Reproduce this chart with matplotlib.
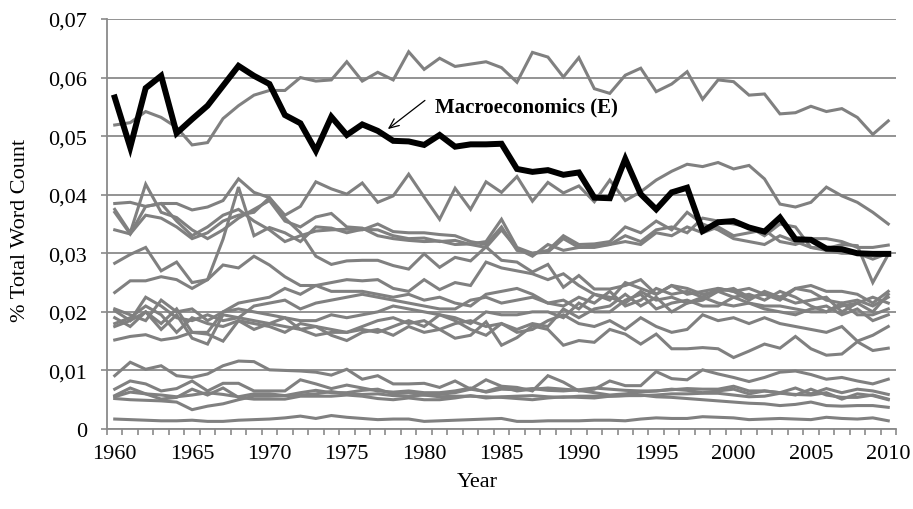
import numpy as np
import matplotlib
matplotlib.use('Agg')
import matplotlib.pyplot as plt
from matplotlib.ticker import FixedLocator

plt.rcParams['font.family'] = ['Liberation Serif', 'DejaVu Serif']

years = list(range(1960, 2011))

# share of total word count, in thousandths (0.001)
macroeconomics = [56.6, 48.1, 58.2, 60.3, 50.5, 52.9, 55.2, 58.6, 62.0, 60.3,
                  58.9, 53.6, 52.2, 47.5, 53.3, 50.2, 52.0, 50.9, 49.2, 49.1,
                  48.5, 50.2, 48.2, 48.6, 48.6, 48.7, 44.4, 43.9, 44.2, 43.4,
                  43.8, 39.5, 39.4, 46.1, 40.1, 37.5, 40.4, 41.2, 33.8, 35.3,
                  35.5, 34.4, 33.7, 36.1, 32.4, 32.3, 30.8, 30.7, 30.0, 29.9,
                  29.9]

topic_top = [51.9, 52.3, 54.2, 53.2, 51.5, 48.5, 48.9, 53.0, 55.2, 57.0,
             57.8, 57.8, 60.0, 59.4, 59.6, 62.7, 59.4, 60.9, 59.6, 64.4,
             61.4, 63.3, 61.9, 62.3, 62.7, 61.7, 59.2, 64.3, 63.5, 60.1,
             63.4, 58.1, 57.3, 60.4, 61.6, 57.6, 58.9, 61.0, 56.3, 59.6,
             59.3, 57.0, 57.2, 53.8, 54.0, 55.1, 54.2, 54.7, 53.2, 50.3,
             52.6]

topic_g1 = [38.5, 38.7, 38.0, 38.5, 38.5, 37.4, 37.9, 39.0, 42.7, 40.4,
            39.5, 36.5, 38.0, 42.2, 41.0, 40.1, 42.0, 38.7, 39.8, 43.5,
            39.6, 35.8, 41.1, 37.5, 42.2, 40.4, 43.1, 38.9, 42.1, 40.3,
            41.5, 38.8, 42.5, 39.0, 40.5, 42.5, 44.0, 45.2, 44.8, 45.5,
            44.4, 45.0, 42.7, 38.4, 37.9, 38.7, 41.3, 39.8, 38.7, 37.0,
            35.0]

topic_g2 = [37.5, 33.5, 41.8, 37.0, 36.1, 34.0, 32.5, 34.0, 36.0, 37.5,
            39.0, 35.5, 34.5, 36.2, 36.8, 34.5, 34.3, 33.0, 32.5, 32.2,
            32.0, 32.1, 31.5, 31.6, 32.0, 35.8, 31.0, 30.0, 30.5, 33.0,
            31.5, 31.6, 32.0, 34.5, 33.5, 35.5, 34.0, 37.0, 35.0, 34.0,
            32.5, 32.0, 31.5, 33.0, 32.0, 31.0, 30.5, 30.0, 30.0, 29.0,
            30.0]

topic_g3 = [37.0, 33.3, 38.0, 38.5, 35.5, 33.0, 34.5, 36.5, 37.5, 35.5,
            34.0, 32.0, 33.0, 33.8, 34.0, 34.1, 34.0, 35.0, 33.7, 33.5,
            33.5, 33.2, 33.0, 32.0, 31.5, 34.5, 30.5, 30.0, 30.2, 32.5,
            31.0, 31.3, 31.5, 33.0, 32.0, 34.0, 34.5, 33.5, 36.0, 35.5,
            35.0, 34.5, 33.0, 35.0, 34.5, 31.0, 30.8, 31.5, 31.3, 25.0,
            29.8]

topic_g4 = [34.0, 33.3, 36.5, 36.0, 34.5, 32.5, 33.5, 35.5, 36.5, 37.0,
            39.5, 36.0, 33.5, 29.5, 28.1, 28.7, 28.8, 28.8, 27.9, 27.3,
            29.9, 27.6, 29.3, 28.7, 31.1, 28.8, 28.5, 26.8, 28.1, 24.2,
            26.2, 23.9, 23.9, 24.5, 25.5, 23.0, 24.5, 24.0, 23.0, 23.5,
            24.0, 22.5, 23.0, 22.0, 24.0, 23.5, 22.0, 21.5, 22.0, 21.0,
            22.5]

topic_g5 = [28.3, 29.8, 31.0, 27.0, 28.5, 25.0, 25.5, 32.4, 41.3, 33.0,
            34.4, 33.5, 32.0, 34.5, 34.3, 33.5, 34.1, 34.0, 33.0, 32.5,
            32.6, 32.0, 32.2, 31.5, 31.0, 34.0, 30.8, 29.5, 31.5, 30.5,
            31.0, 31.0, 31.5, 32.0, 31.5, 33.5, 33.0, 34.5, 33.5, 34.5,
            33.0, 33.5, 34.0, 32.0, 31.5, 32.5, 32.5, 32.0, 31.0, 31.0,
            31.4]

topic_m1 = [23.3, 25.3, 25.3, 26.0, 25.5, 24.0, 25.5, 28.0, 27.5, 29.5,
            28.0, 26.0, 24.5, 24.5, 25.0, 25.5, 25.3, 25.5, 24.0, 23.5,
            25.5, 23.8, 25.0, 24.5, 28.5, 27.5, 27.0, 26.5, 25.5, 26.5,
            24.5, 23.0, 22.0, 25.0, 24.0, 23.0, 24.5, 23.0, 23.5, 24.0,
            23.5, 24.0, 23.0, 22.5, 24.0, 24.5, 23.5, 23.5, 23.0, 21.5,
            23.5]

topic_m2 = [20.2, 18.5, 22.5, 21.0, 19.0, 18.5, 19.5, 18.5, 19.0, 21.0,
            21.5, 22.0, 20.5, 21.5, 22.0, 22.5, 23.0, 22.5, 22.0, 21.5,
            21.0, 20.5, 20.5, 22.0, 22.5, 21.5, 22.0, 22.5, 21.5, 22.0,
            20.5, 23.0, 22.5, 21.5, 23.5, 22.0, 22.5, 21.5, 22.0, 23.5,
            22.5, 23.0, 22.0, 23.5, 22.5, 21.0, 20.0, 21.0, 21.5, 20.0,
            23.0]

topic_m3 = [19.0, 17.5, 20.0, 18.0, 20.5, 16.5, 16.5, 20.0, 21.5, 22.0,
            22.5, 24.0, 23.0, 24.5, 23.5, 23.5, 23.5, 23.0, 22.5, 23.0,
            22.0, 22.5, 21.5, 21.0, 23.0, 23.5, 24.0, 23.0, 21.5, 21.0,
            22.5, 21.5, 23.5, 21.0, 22.0, 24.0, 23.0, 23.5, 22.5, 24.0,
            23.5, 22.0, 23.5, 22.5, 21.5, 22.0, 22.5, 20.0, 21.5, 22.5,
            21.5]

topic_m4 = [18.0, 19.0, 21.0, 19.5, 16.5, 19.0, 18.0, 17.5, 18.5, 17.0,
            18.0, 17.5, 17.0, 17.5, 17.0, 16.5, 17.5, 18.5, 19.0, 18.0,
            18.5, 17.0, 18.0, 18.5, 17.5, 18.0, 17.0, 18.0, 17.5, 20.5,
            19.0, 20.5, 21.0, 23.0, 21.0, 22.5, 20.0, 21.5, 22.5, 21.5,
            21.0, 21.5, 20.5, 20.0, 19.5, 20.5, 21.0, 19.5, 20.5, 18.5,
            19.5]

topic_m5 = [17.5, 18.5, 20.0, 17.0, 19.5, 15.5, 14.5, 19.5, 19.0, 18.5,
            18.0, 19.0, 17.0, 16.0, 16.5, 16.5, 17.0, 16.5, 17.5, 18.5,
            17.5, 19.5, 18.5, 17.0, 16.0, 18.0, 16.5, 17.0, 18.5, 19.5,
            18.0, 17.5, 18.5, 17.0, 19.0, 17.5, 16.5, 17.0, 19.5, 18.5,
            19.0, 18.0, 19.0, 18.0, 17.5, 17.0, 16.5, 17.5, 15.0, 16.0,
            17.5]

topic_m6 = [15.2, 15.8, 16.1, 15.2, 15.6, 16.5, 16.2, 15.0, 18.5, 18.0,
            17.5, 16.5, 18.0, 17.5, 16.0, 15.1, 16.5, 17.0, 16.0, 17.5,
            16.5, 17.0, 15.5, 16.0, 18.3, 14.3, 15.6, 17.6, 17.0, 14.3,
            15.1, 14.8, 17.0, 16.2, 14.5, 16.2, 13.7, 13.7, 13.9, 13.7,
            12.2, 13.3, 14.5, 13.8, 15.8, 13.7, 12.6, 12.8, 14.9, 13.4,
            13.8]

topic_m7 = [20.5, 19.5, 18.5, 22.0, 20.0, 20.5, 18.5, 20.0, 20.5, 20.0,
            19.5, 19.0, 18.5, 18.5, 19.5, 19.0, 19.5, 20.0, 21.0, 20.5,
            20.0, 19.5, 19.0, 18.0, 20.0, 19.5, 19.5, 20.0, 20.0, 19.0,
            21.5, 20.0, 20.0, 22.0, 23.0, 20.5, 21.5, 22.0, 21.0, 21.0,
            22.5, 21.5, 21.0, 21.0, 20.5, 20.0, 20.0, 21.5, 19.5, 19.5,
            20.5]

topic_l0 = [9.1, 11.4, 10.2, 10.8, 9.1, 8.8, 9.4, 10.8, 11.6, 11.5,
            10.1, 10.0, 9.9, 9.7, 9.2, 10.2, 8.5, 9.1, 7.7, 7.7,
            7.8, 7.1, 8.2, 6.8, 8.4, 7.3, 7.1, 6.5, 9.1, 8.0,
            6.5, 6.8, 8.2, 7.4, 7.4, 9.8, 8.6, 8.4, 10.1, 9.4,
            8.8, 8.1, 8.8, 9.7, 9.9, 9.3, 8.5, 8.8, 8.2, 7.7,
            8.5]

topic_l1 = [6.8, 8.2, 7.7, 6.5, 6.9, 8.2, 6.5, 7.8, 7.8, 6.5,
            6.5, 6.5, 8.4, 7.7, 6.9, 7.5, 7.0, 6.5, 6.3, 6.5,
            6.2, 6.2, 6.5, 7.0, 6.3, 6.8, 6.7, 6.9, 6.6, 6.5,
            6.7, 7.0, 6.8, 6.6, 6.5, 6.5, 6.7, 6.9, 6.8, 6.8,
            7.3, 6.5, 6.5, 6.2, 5.8, 6.8, 5.8, 5.4, 5.4, 5.8,
            5.1]

topic_l2 = [5.7, 7.0, 6.0, 5.1, 5.4, 6.8, 5.8, 7.0, 5.4, 5.1,
            5.1, 5.1, 5.6, 5.6, 5.6, 5.8, 5.6, 5.2, 5.0, 5.3,
            5.0, 5.0, 5.3, 5.7, 5.3, 5.5, 5.6, 5.7, 5.5, 5.4,
            5.6, 5.6, 5.6, 5.7, 5.7, 5.8, 6.0, 6.0, 6.1, 6.1,
            5.8, 5.5, 5.6, 6.1, 5.9, 5.8, 6.2, 5.1, 6.0, 5.7,
            5.0]

topic_l3 = [5.2, 5.0, 4.9, 4.8, 4.6, 3.3, 3.9, 4.3, 5.0, 5.6,
            5.6, 5.7, 5.8, 6.0, 6.4, 6.0, 5.9, 6.0, 5.7, 5.6,
            5.8, 5.5, 5.6, 5.6, 5.5, 5.4, 5.2, 5.0, 5.3, 5.5,
            5.4, 5.3, 5.6, 5.7, 5.8, 5.5, 5.4, 5.2, 5.0, 4.8,
            4.6, 4.4, 4.3, 4.0, 4.2, 4.6, 4.0, 3.9, 4.0, 4.0,
            3.7]

topic_l4 = [5.5, 6.3, 6.0, 5.8, 5.5, 5.8, 6.2, 5.9, 5.5, 6.0,
            6.0, 5.7, 6.2, 6.6, 6.2, 6.2, 6.6, 6.8, 6.0, 6.2,
            5.8, 5.9, 6.2, 6.8, 6.4, 7.2, 6.5, 6.8, 7.0, 6.8,
            6.6, 6.2, 5.8, 6.0, 6.3, 6.5, 6.8, 6.6, 6.2, 6.5,
            6.8, 6.0, 6.5, 6.2, 7.0, 6.0, 6.9, 6.2, 6.8, 6.5,
            5.9]

topic_bottom = [1.7, 1.6, 1.5, 1.4, 1.4, 1.5, 1.3, 1.3, 1.5, 1.6,
                1.7, 1.9, 2.2, 1.8, 2.3, 2.0, 1.8, 1.6, 1.7, 1.7,
                1.3, 1.4, 1.5, 1.6, 1.7, 1.8, 1.3, 1.3, 1.4, 1.4,
                1.4, 1.5, 1.5, 1.4, 1.7, 1.9, 1.8, 1.8, 2.1, 2.0,
                1.9, 1.6, 1.7, 1.8, 1.7, 1.6, 2.0, 1.8, 1.7, 1.9,
                1.4]

other_topics = [topic_top, topic_g1, topic_g2, topic_g3, topic_g4, topic_g5,
                topic_m1, topic_m2, topic_m3, topic_m4, topic_m5, topic_m6,
                topic_m7, topic_l0, topic_l1, topic_l2, topic_l3, topic_l4,
                topic_bottom]

y_ticks = [0, 0.01, 0.02, 0.03, 0.04, 0.05, 0.06, 0.07]
y_tick_labels = ['0', '0,01', '0,02', '0,03', '0,04', '0,05', '0,06', '0,07']
x_ticks = [1960, 1965, 1970, 1975, 1980, 1985, 1990, 1995, 2000, 2005, 2010]

gray = '#808080'
grid_gray = '#8a8a8a'

fig = plt.figure(figsize=(9.13, 5.10), dpi=100)
ax = fig.add_axes([107 / 913, 80 / 510, 789 / 913, 410 / 510])

for series in other_topics:
    ax.plot(years, np.array(series) / 1000, color=gray, lw=2.2,
            solid_joinstyle='miter', zorder=2)
ax.plot(years, np.array(macroeconomics) / 1000, color='black', lw=4.3,
        solid_joinstyle='miter', zorder=3)

ax.set_xlim(1959.5, 2010.5)
ax.set_ylim(0, 0.07)
ax.set_yticks(y_ticks)
ax.set_yticklabels(y_tick_labels)
ax.set_xticks(x_ticks)
ax.set_xticklabels([str(x) for x in x_ticks])
ax.xaxis.set_minor_locator(FixedLocator(np.arange(1959.5, 2011, 1)))

ax.yaxis.grid(True, color=grid_gray, lw=1.3)
ax.set_axisbelow(True)
for side in ['top', 'right']:
    ax.spines[side].set_visible(False)
for side in ['left', 'bottom']:
    ax.spines[side].set_color(grid_gray)
    ax.spines[side].set_linewidth(1.3)

ax.tick_params(axis='x', which='major', length=0, pad=11, labelsize=16)
ax.tick_params(axis='x', which='minor', length=4.5, width=1.2,
               color=grid_gray, direction='out')
ax.tick_params(axis='y', which='major', length=4.5, width=1.2,
               color=grid_gray, pad=10, labelsize=16)

ax.annotate('', xy=(1977.65, 0.0512), xytext=(1980.05, 0.0561),
            arrowprops=dict(arrowstyle='->,head_length=0.7,head_width=0.3',
                            lw=0.9, color='black', shrinkA=0, shrinkB=0))
ax.text(1980.7, 0.0551, 'Macroeconomics (E)', fontsize=15,
        fontweight='bold', ha='left', va='center')

fig.text(477 / 913, 1 - 483 / 510, 'Year', fontsize=16, ha='center',
         va='center')
fig.text(21 / 913, 1 - 230 / 510, '% Total Word Count', fontsize=16,
         rotation=90, ha='center', va='center')

fig.savefig('out.png', dpi=100)
